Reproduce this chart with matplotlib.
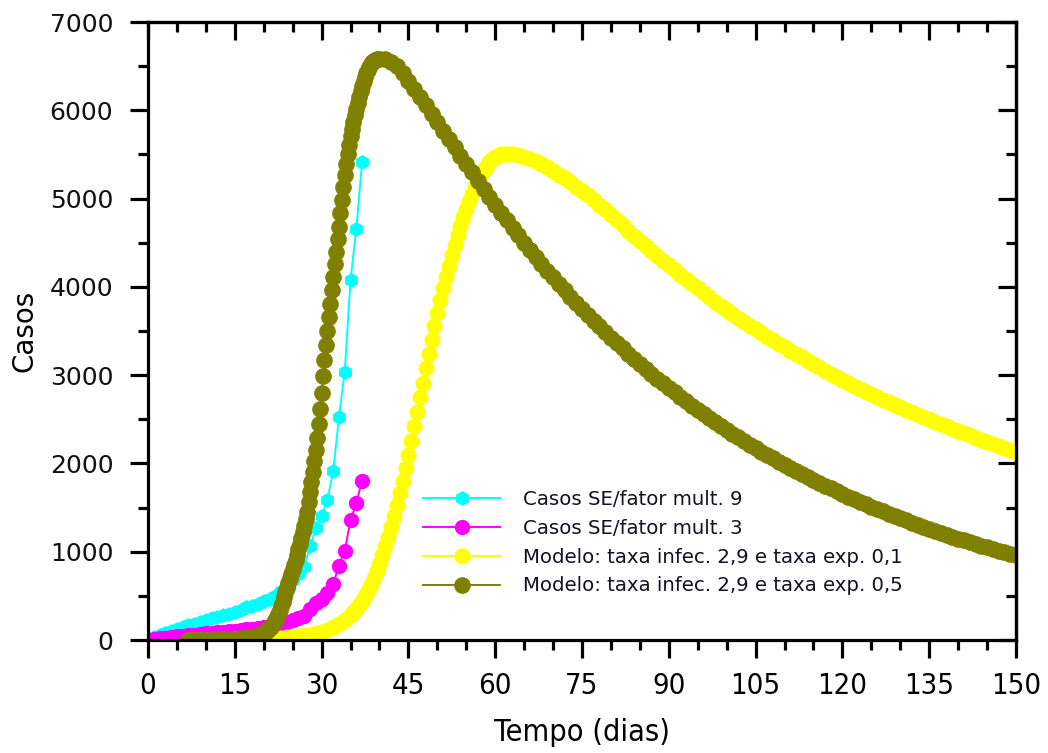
import numpy as np
import matplotlib
matplotlib.use("Agg")
import matplotlib.pyplot as plt
from matplotlib.ticker import MultipleLocator, NullFormatter

# data ---------------------------------------------------------------
dias_dados = np.arange(1, 38)
casos_f9 = [40, 60, 80, 100, 130, 150, 165, 185, 200, 225, 245, 265, 285, 300, 320,
            345, 370, 390, 410, 440, 470, 500, 560, 620, 680, 750, 830, 1060, 1265,
            1400, 1585, 1910, 2525, 3040, 4075, 4655, 5415]
casos_f3 = [13, 20, 27, 33, 43, 50, 55, 62, 67, 75, 82, 88, 95, 100, 107, 115, 123,
            130, 137, 147, 157, 167, 187, 207, 227, 250, 277, 353, 422, 467, 528,
            637, 842, 1013, 1358, 1552, 1805]

# modelo exp 0,1 (amostrado a cada 1 dia, 0.5 dia na subida)
dias_m1 = np.concatenate([np.arange(7, 36), np.arange(35.5, 63, 0.5), np.arange(63, 151)])
modelo_01 = [2, 2, 3, 3, 4, 4, 5, 6, 7, 8, 9, 11, 13, 15, 18, 21, 25, 30, 36, 43, 52,
             62, 76, 94, 117, 147, 183, 228, 285,
             318, 350, 395, 445, 500, 560, 625, 700, 780, 865, 960, 1060, 1170, 1285,
             1405, 1530, 1665, 1805, 1950, 2100, 2260, 2420, 2585, 2750, 2915, 3080,
             3240, 3400, 3555, 3705, 3850, 3985, 4115, 4240, 4360, 4475, 4585, 4690,
             4790, 4885, 4975, 5055, 5130, 5200, 5265, 5320, 5370, 5410, 5445, 5470,
             5488, 5500, 5507, 5510, 5510,
             5507, 5495, 5477, 5453, 5425, 5392, 5355, 5315, 5273, 5229, 5183, 5135,
             5086, 5036, 4985, 4933, 4880, 4818, 4758, 4698, 4639, 4580, 4522, 4465,
             4409, 4353, 4298, 4244, 4191, 4138, 4086, 4034, 3983, 3933, 3883, 3834,
             3786, 3738, 3691, 3645, 3602, 3560, 3518, 3477, 3436, 3396, 3356, 3316,
             3277, 3239, 3201, 3163, 3126, 3090, 3053, 3018, 2982, 2947, 2913, 2879,
             2845, 2814, 2784, 2754, 2724, 2695, 2666, 2637, 2609, 2581, 2553, 2526,
             2499, 2472, 2445, 2419, 2393, 2367, 2342, 2317, 2292, 2267, 2243, 2219,
             2195, 2171, 2148, 2125]

# modelo exp 0,5 (amostrado a cada 1 dia, 0.25 dia na subida)
dias_m5 = np.concatenate([np.arange(7, 20), np.arange(20, 40.1, 0.25), np.arange(41, 151)])
modelo_05 = [2, 3, 4, 5, 6, 8, 10, 13, 17, 22, 30, 40, 57,
             85, 95, 107, 120, 134, 150, 170, 195, 225, 260, 300, 345, 390, 435, 485,
             540, 595, 650, 700, 750, 800, 850, 905, 965, 1030, 1090, 1155, 1225,
             1295, 1370, 1455, 1565, 1680, 1790, 1905, 2025, 2150, 2290, 2450, 2620,
             2800, 2990, 3170, 3340, 3500, 3660, 3810, 3960, 4110, 4260, 4400, 4540,
             4680, 4840, 4990, 5130, 5265, 5390, 5505, 5610, 5705, 5790, 5870, 5945,
             6015, 6085, 6150, 6215, 6275, 6328, 6378, 6420, 6458, 6492, 6520, 6543,
             6560, 6572, 6580, 6584, 6585,
             6578, 6550, 6500, 6425, 6335, 6245, 6150, 6055, 5960, 5865, 5770, 5675,
             5580, 5485, 5390, 5298, 5205, 5113, 5020, 4930, 4841, 4754, 4668, 4584,
             4501, 4420, 4340, 4262, 4185, 4110, 4036, 3963, 3891, 3821, 3752, 3685,
             3618, 3553, 3489, 3426, 3364, 3304, 3244, 3186, 3128, 3072, 3016, 2962,
             2909, 2856, 2805, 2754, 2704, 2656, 2608, 2561, 2515, 2469, 2425, 2381,
             2338, 2296, 2255, 2214, 2174, 2135, 2097, 2059, 2022, 1985, 1950, 1914,
             1880, 1846, 1813, 1780, 1748, 1717, 1686, 1655, 1625, 1596, 1567, 1539,
             1511, 1484, 1457, 1431, 1405, 1380, 1355, 1331, 1307, 1283, 1260, 1237,
             1215, 1193, 1172, 1150, 1130, 1109, 1089, 1070, 1050, 1031, 1013, 994,
             976, 959]

rotulos = ["Casos SE/fator mult. 9", "Casos SE/fator mult. 3",
           "Modelo: taxa infec. 2,9 e taxa exp. 0,1",
           "Modelo: taxa infec. 2,9 e taxa exp. 0,5"]

# figure ---------------------------------------------------------------
fig = plt.figure(figsize=(10.48, 7.53), dpi=100)
ax = fig.add_axes([0.1412, 0.150, 0.8283, 0.8207])

ax.plot(dias_dados, casos_f9, color="#00FFFF", marker="h", ms=9.5, lw=1.4, label=rotulos[0])
ax.plot(dias_dados, casos_f3, color="#FF00FF", marker="o", ms=10, lw=1.4, label=rotulos[1])
ax.plot(dias_m1, modelo_01, color="#FFFF00", marker="o", ms=10.5, lw=1.4, label=rotulos[2])
ax.plot(dias_m5, modelo_05, color="#808000", marker="o", ms=11, lw=1.4, label=rotulos[3])

ax.set_xlim(0, 150)
ax.set_ylim(0, 7000)
ax.xaxis.set_major_locator(MultipleLocator(15))
ax.xaxis.set_minor_locator(MultipleLocator(5))
ax.yaxis.set_major_locator(MultipleLocator(1000))
ax.yaxis.set_minor_locator(MultipleLocator(500))

for s in ax.spines.values():
    s.set_linewidth(2.3)
ax.tick_params(which="major", direction="out", length=13, width=2.3)
ax.tick_params(which="minor", direction="out", length=7, width=2.3)
ax.tick_params(axis="y", pad=12)
ax.tick_params(axis="x", pad=10)

for lab in ax.get_yticklabels():
    lab.set_family("DejaVu Sans")
    lab.set_stretch("normal")
    lab.set_fontsize(18)
    lab.set_color("#111111")
for lab in ax.get_xticklabels():
    lab.set_family("DejaVu Sans")
    lab.set_stretch("condensed")
    lab.set_fontsize(21)

# inward ticks on top and right
top = ax.secondary_xaxis("top")
top.xaxis.set_major_locator(MultipleLocator(15))
top.xaxis.set_minor_locator(MultipleLocator(5))
top.xaxis.set_major_formatter(NullFormatter())
top.tick_params(which="major", direction="in", length=13, width=2.3)
top.tick_params(which="minor", direction="in", length=7, width=2.3)
right = ax.secondary_yaxis("right")
right.yaxis.set_major_locator(MultipleLocator(1000))
right.yaxis.set_minor_locator(MultipleLocator(500))
right.yaxis.set_major_formatter(NullFormatter())
right.tick_params(which="major", direction="in", length=13, width=2.3)
right.tick_params(which="minor", direction="in", length=7, width=2.3)
for sec in (top, right):
    for s in sec.spines.values():
        s.set_linewidth(2.3)

ax.set_xlabel("Tempo (dias)", family="DejaVu Sans", fontstretch="condensed",
              fontsize=22, labelpad=13)
ax.set_ylabel("Casos", family="DejaVu Sans", fontstretch="normal",
              fontsize=20, labelpad=8)

leg = ax.legend(loc="upper left", bbox_to_anchor=(0.317, 0.243), frameon=False,
                prop={"family": "DejaVu Sans", "stretch": "normal", "size": 14.2},
                handlelength=3.9, handletextpad=1.15, labelspacing=0.5,
                borderpad=0, borderaxespad=0)
for t in leg.get_texts():
    t.set_color("#111122")

fig.savefig("out.png", dpi=100)
